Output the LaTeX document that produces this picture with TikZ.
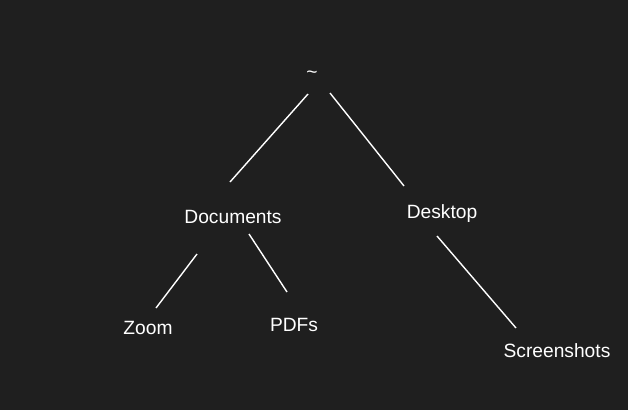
\documentclass[tikz,border=0pt]{standalone}
\usepackage{fontspec}
\setmainfont{Liberation Sans}
\definecolor{bg}{RGB}{31,31,31}
\begin{document}
\begin{tikzpicture}[x=1pt,y=-1pt,
  lbl/.style={text=white,font=\fontsize{19.2}{22}\selectfont,inner sep=0pt,anchor=base},
  edge/.style={draw=white,line width=1.4pt}]
\fill[bg] (0,0) rectangle (628,410);
\useasboundingbox (0,0) rectangle (628,410);
\node[lbl] (root) at (312,78) {\textasciitilde};
\node[lbl] (docs) at (233,223) {Documents};
\node[lbl] (desk) at (442,218) {Desktop};
\node[lbl] (zoom) at (148,334) {Zoom};
\node[lbl] (pdfs) at (294,331) {PDFs};
\node[lbl] (shots) at (557,357) {Screenshots};
\coordinate (r1) at (308,94);  \coordinate (d1) at (230,182);
\coordinate (r2) at (330,93);  \coordinate (k1) at (404,186);
\coordinate (d2) at (197,254); \coordinate (z1) at (156,308);
\coordinate (d3) at (249,234); \coordinate (p1) at (287,292);
\coordinate (k2) at (437,236); \coordinate (s1) at (516,328);
\draw[edge] (r1) -- (d1);
\draw[edge] (r2) -- (k1);
\draw[edge] (d2) -- (z1);
\draw[edge] (d3) -- (p1);
\draw[edge] (k2) -- (s1);
\end{tikzpicture}
\end{document}
